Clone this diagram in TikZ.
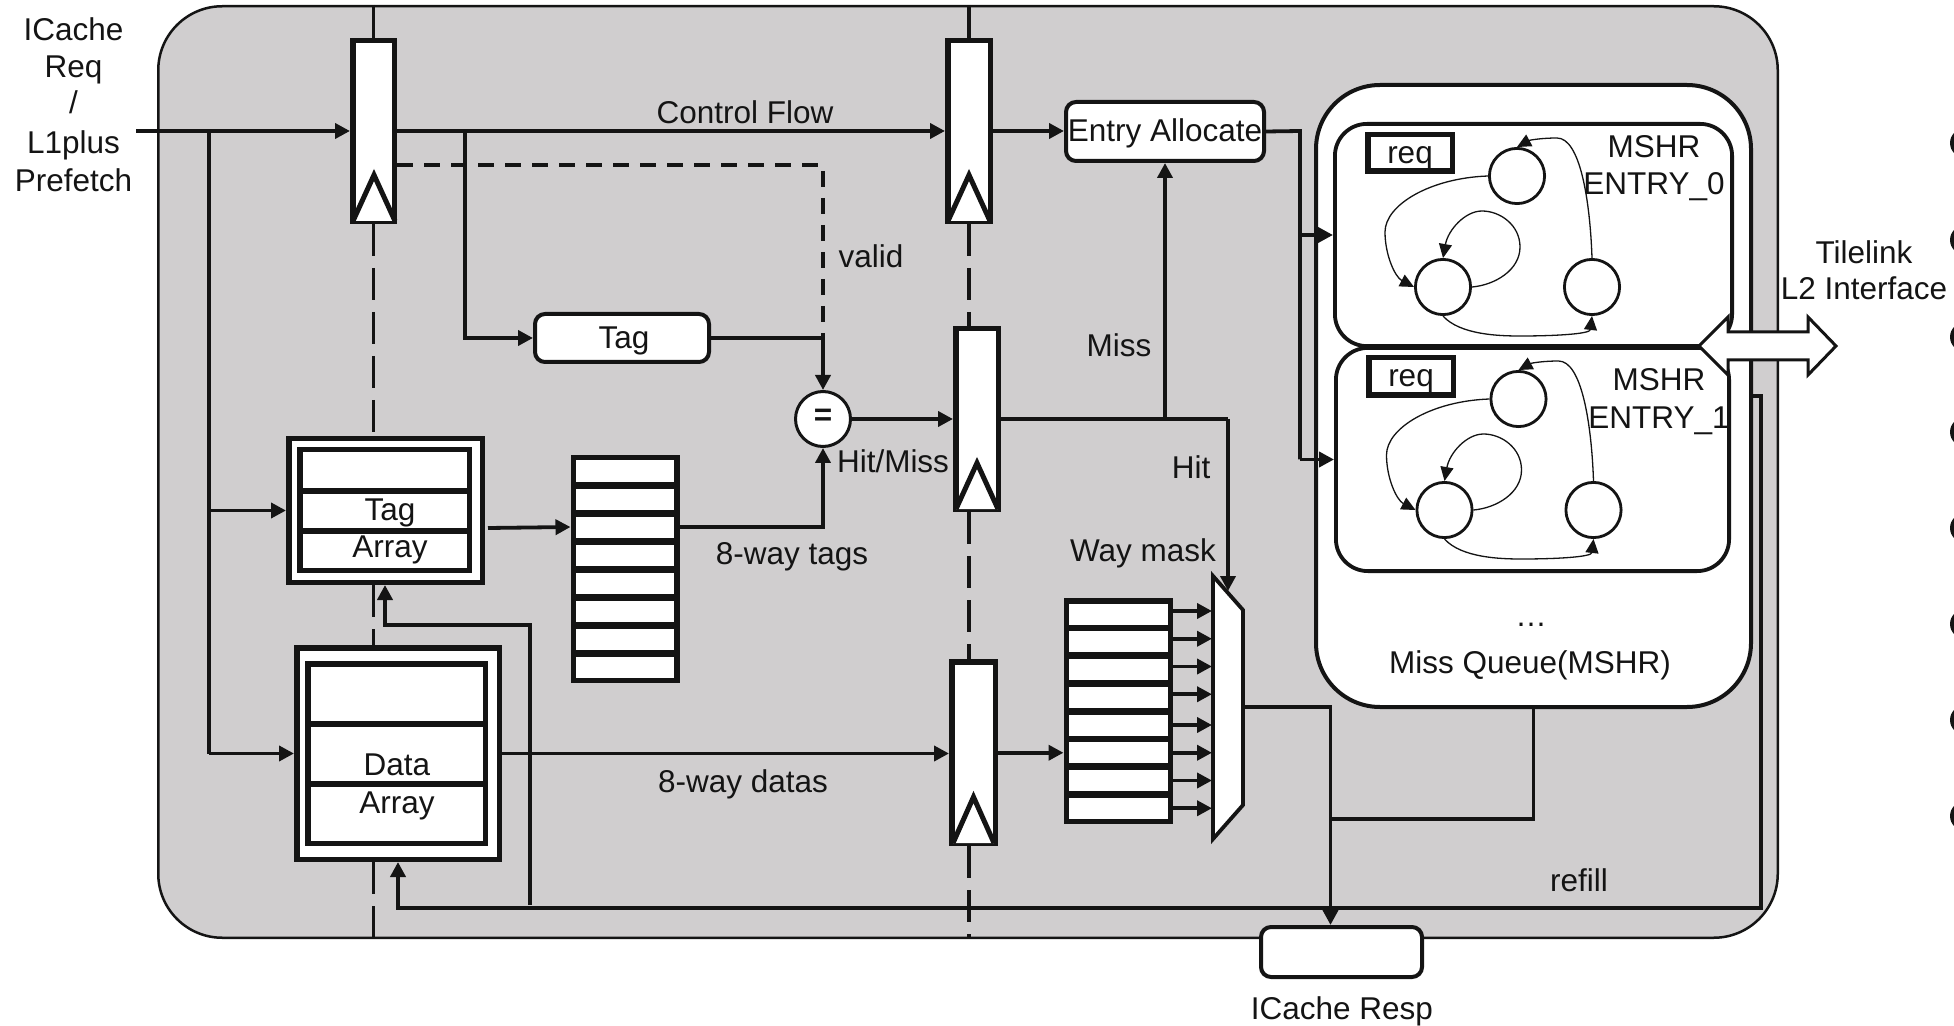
\documentclass[tikz,border=0pt]{standalone}
\usepackage{fontspec}
\setmainfont{Liberation Sans}
\usetikzlibrary{arrows.meta}
\definecolor{ink}{HTML}{141414}
\definecolor{socgray}{HTML}{D0CECF}
\newcommand{\labfont}{\fontsize{15.75}{18}\selectfont}
\tikzset{
  span/.style args={#1,#2,#3,#4}{
    minimum width={((#3)-(#1))*0.5pt-\pgflinewidth},
    minimum height={((#4)-(#2))*0.5pt-\pgflinewidth},
    at={({((#1)+(#3))/2},{((#2)+(#4))/2})}},
  every node/.style={font=\labfont,text=ink,inner sep=0pt},
  soc/.style={draw=ink,fill=socgray,line width=1.25pt,rectangle,rounded corners=32pt},
  reg/.style={draw=ink,fill=white,line width=2.75pt,rectangle},
  clk/.style={draw=ink,fill=white,line width=2.5pt,miter limit=20},
  rowbox/.style={draw=ink,fill=white,line width=2.75pt,rectangle},
  outerbox/.style={draw=ink,fill=white,line width=2.75pt,rectangle},
  rbox/.style={draw=ink,fill=white,line width=2pt,rectangle,rounded corners=5pt,text height=13.8pt,text depth=3.3pt},
  queue/.style={draw=ink,fill=white,line width=2pt,rectangle,rounded corners=32pt},
  entrybox/.style={draw=ink,fill=white,line width=1.9pt,rectangle,rounded corners=16pt},
  reqbox/.style={draw=ink,fill=white,line width=2.75pt,rectangle,text height=13.8pt,text depth=3.3pt},
  state/.style={draw=ink,fill=white,line width=1.4pt,circle},
  eqnode/.style={draw=ink,fill=white,line width=1.5pt,circle,font=\labfont\bfseries},
  lab/.style={text height=15pt,text depth=3.3pt},
  conn/.style={draw=ink,line width=1.9pt},
  arr/.style={conn,-{Triangle[length=7.5pt,width=7.5pt]}},
  ctrl/.style={conn,dash pattern=on 8pt off 5.5pt},
  stage/.style={conn,dash pattern=on 16pt off 6pt},
  fsm/.style={draw=ink,line width=0.65pt,-{Triangle[length=7pt,width=6.5pt]}},
  blockarrow/.style={draw=ink,fill=white,line width=1.5pt,line join=miter}
}
\begin{document}
\begin{tikzpicture}[x=0.5pt,y=-0.5pt]
\useasboundingbox (0,0) rectangle (1954,1026);
% stray fragments at the right edge
\begin{scope}
  \clip (0,0) rectangle (1954,1026);
  \foreach \yy in {143,240,337,432,528,624,720,816}
    \fill[ink] (1964.5,\yy) circle [radius=14.5];
\end{scope}
% enclosure
\node[soc,span={157,5,1779,939}] (socbox) {};
% pipeline registers
\node[reg,span={350,38,397,224}] (r1) {};
\node[reg,span={945,38,993,224}] (r2) {};
\node[reg,span={953,326,1001,512}] (r3) {};
\node[reg,span={949,659,998,846}] (r4) {};
% boxes
\node[rbox,span={533,312,711,364}] (tg) {\hspace{2pt}Tag};
\node[rbox,span={1064,100,1266,163}] (ea) {Entry Allocate};
\node[rbox,span={1259,925,1424,979}] (rp) {};
\node[eqnode,span={794,390,852,448}] (eq) {\raisebox{1.5pt}{=}};
% tag array
\node[outerbox,span={286,436,485,585}] (ta) {};
\node[rowbox,span={297,447,472,493}] (ta1) {};
\node[rowbox,span={297,488,472,534}] (ta2) {};
\node[rowbox,span={297,528,472,573}] (ta3) {};
% data array
\node[outerbox,span={294,645,502,862}] (da) {};
\node[rowbox,span={305,661,488,727}] (da1) {};
\node[rowbox,span={305,721,488,787}] (da2) {};
\node[rowbox,span={305,781,488,846}] (da3) {};
% stacks
\foreach \i in {1,...,8} {
  \node[rowbox,span={570.5,{455+(\i-1)*28},679.5,{487+(\i-1)*28}}] (t\i) {};
  \node[rowbox,span={1063.5,{598+(\i-1)*27.75},1173,{630+(\i-1)*27.75}}] (d\i) {};
}
% miss queue
\node[queue,span={1314,83,1753,709}] (mq) {};
\node[entrybox,span={1333,122,1734,348}] (e0) {};
\node[entrybox,span={1334,346,1731,573}] (e1) {};
\node[reqbox,span={1365,132,1455,174}] (rq0) {req};
\node[reqbox,span={1366,355,1456,398}] (rq1) {req};
% state machines
\foreach \e/\dx/\dy in {0/0/0,1/1.5/223} {
  \begin{scope}[shift={(\dx,\dy)}]
    \node[state,span={1488,147,1546,205}] (sa\e) {};
    \node[state,span={1414,258,1472,316}] (sb\e) {};
    \node[state,span={1563,258,1621,316}] (sc\e) {};
    \draw[fsm] (sa\e.west) .. controls (1430,178) and (1385,205) .. (1385,232)
       .. controls (1385,255) and (1395,277) .. (sb\e.west);
    \draw[fsm] (sb\e.east) .. controls (1495,285) and (1520,270) .. (1520,247)
       .. controls (1520,225) and (1500,211) .. (1482,211)
       .. controls (1465,211) and (1448,230) .. (sb\e.north);
    \draw[fsm] (sb\e.south) .. controls (1460,335) and (1500,336) .. (1520,336)
       .. controls (1555,336) and (1590,334) .. (sc\e.south);
    \draw[fsm] (sc\e.north) .. controls (1590,200) and (1580,138) .. (1557,138)
       .. controls (1542,138) and (1530,140) .. (sa\e.north);
  \end{scope}
}
% labels
\node[lab] (l1) at (73.5,29) {ICache};
\node[lab] (l2) at (73.5,66) {Req};
\node[lab] (l3) at (73.5,102) {/};
\node[lab] (l4) at (73.5,142) {L1plus};
\node[lab] (l5) at (73.5,180) {Prefetch};
\node[lab] (lcf) at (745,112) {Control Flow};
\node[lab] (lva) at (871,256) {valid};
\node[lab] (lhm) at (893,461) {Hit/Miss};
\node[lab] (lwt) at (792,553) {8-way tags};
\node[lab] (lwd) at (743,781) {8-way datas};
\node[lab] (lmi) at (1119,345) {Miss};
\node[lab] (lhi) at (1191,467) {Hit};
\node[lab] (lwm) at (1143,550) {Way mask};
\node[lab] (lta) at (390,509) {Tag};
\node[lab] (lar) at (390,546) {Array};
\node[lab] (ldd) at (397,764) {Data};
\node[lab] (lda) at (397,802) {Array};
\node[lab] (lm0) at (1654,146) {MSHR};
\node[lab] (le0) at (1654,183) {ENTRY\_0};
\node[lab] (lm1) at (1659,379) {MSHR};
\node[lab] (le1) at (1659,417) {ENTRY\_1};
\node (ldots) at (1531,625) {…};
\node[lab] (lmq) at (1530,662) {Miss Queue(MSHR)};
\node[lab] (ltl) at (1864,252) {Tilelink};
\node[lab] (ll2) at (1864,288) {L2 Interface};
\node[lab] (lrf) at (1579,880) {refill};
\node[lab] (lrs) at (1342,1008) {ICache Resp};
% register clock triangles
\filldraw[clk] (353,221) -- (374,175) -- (395,221);
\filldraw[clk] (948,221) -- (969,175) -- (990,221);
\filldraw[clk] (956,509) -- (977,463) -- (998,509);
\filldraw[clk] (953,843) -- (973.5,797) -- (994,843);
% stage lines
\draw[conn] (socbox.north -| r1.north) -- (r1.north);
\draw[conn] (socbox.north -| r2.north) -- (r2.north);
\draw[stage] (r1.south) -- (r1.south |- ta.north);
\draw[stage] (r1.south |- ta.south) -- (r1.south |- da.north);
\draw[stage] (r1.south |- da.south) -- (r1.south |- socbox.south);
\draw[stage] (r2.south) -- (r2.south |- r3.north);
\draw[stage] (r2.south |- r3.south) -- (r2.south |- r4.north);
\draw[stage] (r2.south |- r4.south) -- (r2.south |- socbox.south);
% control points
\coordinate (in) at (136,131);
\coordinate (jreq) at (209,131);
\coordinate (jtag) at (465,131);
\coordinate (vs) at (397,165);
\coordinate (taout) at (488,528);
\coordinate (jmiss) at (1165,419);
\coordinate (jhit) at (1228,419);
\coordinate (muxin) at (1228,591);
\coordinate (muxleft) at (1212,700);
\coordinate (muxout) at (1243,707);
\coordinate (jout) at (1330.5,707);
\coordinate (jq) at (1330.5,819);
\coordinate (ej) at (1300,131);
\coordinate (rfa) at (1761,396);
\coordinate (rfb) at (1761,908);
\coordinate (fbs) at (530,905);
\coordinate (fbc) at (530,625);
\coordinate (fbd) at (385,625);
% connectors
\draw[arr] (in) -- (in -| r1.west);
\draw[conn] (jreq) -- (jreq |- da.west) ;
\draw[arr] (jreq |- ta.west) -- (ta.west);
\draw[arr] (jreq |- da.west) -- (da.west);
\draw[arr] (in -| r1.east) -- (in -| r2.west);
\draw[arr] (in -| r2.east) -- (in -| ea.west);
\draw[arr] (jtag) -- (jtag |- tg.west) -- (tg.west);
\draw[ctrl] (vs) -- (vs -| eq.north) -- (eq.north |- tg.east);
\draw[conn] (tg.east) -- (eq.north |- tg.east);
\draw[arr] (eq.north |- tg.east) -- (eq.north);
\draw[arr] (eq.east) -- (eq.east -| r3.west);
\draw[arr] (taout) -- (t3.west);
\draw[arr] (t3.east) -- (eq.south |- t3.east) -- (eq.south);
\draw[arr] (da.east) -- (da.east -| r4.west);
\draw[arr] (r4.east |- d6.west) -- (d6.west);
\draw[conn] (jmiss -| r3.east) -- (jhit);
\draw[arr] (jmiss) -- (ea.south);
\draw[conn] (ea.east) -- (ej) -- (ej |- e1.west);
\draw[arr] (ej |- e0.west) -- (e0.west);
\draw[arr] (ej |- e1.west) -- (e1.west);
\draw[arr] (fbs) -- (fbc) -- (fbd) -- (ta.south -| fbd);
\draw[arr] (rfa -| mq.east) -- (rfa) -- (rfb) -- (rfb -| da.south) -- (da.south);
% way mux
\filldraw[draw=ink,fill=white,line width=1.9pt,miter limit=20] (1213,576) -- (1243,610) -- (1243,805) -- (1213,839) -- cycle;
\foreach \i/\s in {1/1.5pt,2/1.5pt,3/1.5pt,4/1.5pt,5/0pt,6/0pt,7/0pt,8/0pt}
  \draw[arr] ([yshift=\s]d\i.east) -- ([yshift=\s]d\i.east -| muxleft);
\draw[arr] (jhit) -- (muxin);
\draw[arr] (muxout) -- (jout) -- (jout |- rp.north);
\draw[conn] (mq.south) -- (mq.south |- jq) -- (jq);
% L2 interface arrow
\draw[blockarrow] (1699,346) -- (1728,317) -- (1728,332) -- (1808,332) -- (1808,317) -- (1836,346) -- (1808,375) -- (1808,360) -- (1728,360) -- (1728,375) -- cycle;
\end{tikzpicture}
\end{document}
